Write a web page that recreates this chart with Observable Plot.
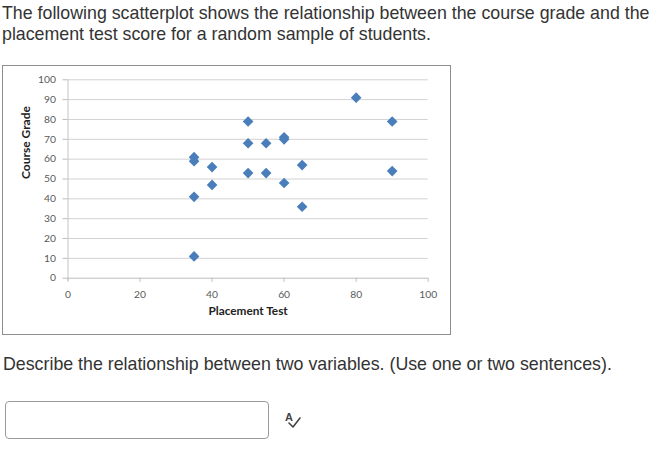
<!DOCTYPE html>
<html>
<head>
<meta charset="utf-8">
<script src="https://cdn.jsdelivr.net/npm/d3@7"></script>
<script src="https://cdn.jsdelivr.net/npm/@observablehq/plot@0.6"></script>
<style>
  html, body { margin: 0; padding: 0; background: #fff; }
  body { width: 659px; height: 462px; position: relative; overflow: hidden; font-family: "Liberation Sans", Arial, sans-serif; color: #333; }
  #q1 { position: absolute; left: 2px; top: 3px; font-size: 17.8px; line-height: 21px; white-space: nowrap; }
  #frame { position: absolute; left: 2px; top: 65px; width: 447px; height: 268px; border: 1px solid #8e8e8e; background: #fff; }
  #frame svg { display: block; }
  #q2 { position: absolute; left: 3px; top: 354px; font-size: 17.8px; line-height: 21px; white-space: nowrap; }
  #box { position: absolute; left: 5px; top: 401px; width: 262px; height: 36px; border: 1px solid #9a9a9a; border-radius: 4px; background: #fff; }
  #icon { position: absolute; left: 284px; top: 408px; width: 20px; height: 22px; }
</style>
</head>
<body>
<div id="q1">The following scatterplot shows the relationship between the course grade and the<br>placement test score for a random sample of students.</div>
<div id="frame"></div>
<div id="q2">Describe the relationship between two variables. (Use one or two sentences).</div>
<div id="box"></div>
<svg id="icon" width="20" height="22" viewBox="0 0 20 22">
  <text x="1" y="13" font-family="Liberation Sans, Arial, sans-serif" font-size="11" font-weight="bold" fill="#444">A</text>
  <path d="M5 15 L9 19 L16 10" fill="none" stroke="#444" stroke-width="1.6" stroke-linecap="round" stroke-linejoin="round"/>
</svg>
<script>
// Data
const placementTest = [35, 35, 35, 35, 40, 40, 50, 50, 50, 55, 55, 60, 60, 60, 65, 65, 80, 90, 90];
const courseGrade   = [11, 41, 59, 61, 56, 47, 79, 68, 53, 68, 53, 71, 70, 48, 57, 36, 91, 79, 54];
const xTicks = [0, 20, 40, 60, 80, 100];
const yTicks = [0, 10, 20, 30, 40, 50, 60, 70, 80, 90, 100];
const xTitle = "Placement Test";
const yTitle = "Course Grade";

const data = placementTest.map((x, i) => ({x, y: courseGrade[i]}));

const chart = Plot.plot({
  width: 447,
  height: 268,
  marginLeft: 64.5,
  marginRight: 22.3,
  marginTop: 13.3,
  marginBottom: 56.3,
  x: {domain: [0, 100]},
  y: {domain: [0, 100]},
  style: {fontFamily: "Lato, sans-serif", fontSize: "10.3px", background: "white", color: "#595959", overflow: "visible"},
  marks: [
    Plot.ruleY(yTicks.filter(d => d > 0), {y: d => d, x1: 0, x2: 100, stroke: "#d2d2d2", strokeWidth: 1}),
    Plot.ruleX([0], {y1: -1.5, y2: 100, stroke: "#c4c4c4"}),
    Plot.ruleY([0], {x1: 0, x2: 100, stroke: "#bdbdbd"}),
    Plot.axisY({ticks: yTicks, tickSize: 5, tickPadding: 7, label: null, stroke: "#bdbdbd", fill: "#595959"}),
    Plot.axisX({ticks: xTicks, tickSize: 4, tickPadding: 8, label: null, stroke: "#bdbdbd", fill: "#595959"}),
    Plot.dot(data, {x: "x", y: "y", symbol: "diamond2", r: 4.8, fill: "#4a7ebb", stroke: "none"}),
    Plot.text([yTitle], {frameAnchor: "left", dx: -42, rotate: -90, fontWeight: "bold", fontSize: 12, fill: "#222"}),
    Plot.text([xTitle], {frameAnchor: "bottom", dy: 36.5, fontWeight: "bold", fontSize: 11.8, fill: "#222"})
  ]
});
document.getElementById("frame").appendChild(chart);
</script>
</body>
</html>
